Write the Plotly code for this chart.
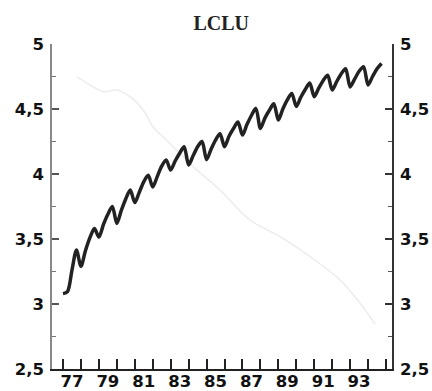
import plotly.graph_objects as go

# Black series: quarterly, 1977Q1 .. 1994Q4
years = list(range(1977, 1995))
lclu_q = [
    [3.08, 3.095, 3.26, 3.415],
    [3.29, 3.41, 3.51, 3.58],
    [3.515, 3.61, 3.69, 3.75],
    [3.62, 3.72, 3.81, 3.877],
    [3.78, 3.86, 3.94, 3.99],
    [3.90, 3.98, 4.06, 4.108],
    [4.03, 4.10, 4.16, 4.21],
    [4.07, 4.14, 4.21, 4.25],
    [4.11, 4.19, 4.26, 4.31],
    [4.21, 4.29, 4.35, 4.40],
    [4.30, 4.38, 4.45, 4.505],
    [4.35, 4.43, 4.49, 4.54],
    [4.415, 4.50, 4.57, 4.62],
    [4.52, 4.59, 4.65, 4.70],
    [4.595, 4.66, 4.72, 4.76],
    [4.646, 4.71, 4.77, 4.81],
    [4.67, 4.73, 4.79, 4.825],
    [4.685, 4.75, 4.81, 4.85],
]
quarter_offsets = [0.0, 0.25, 0.5, 0.75]

# Light grey series
grey_t = [1977.76, 1978.5, 1979.25, 1980.0, 1980.73, 1981.48, 1982.03, 1982.78,
          1984.26, 1985.75, 1987.42, 1989.10, 1990.77, 1992.44, 1993.56, 1994.39]
grey_v = [4.75, 4.685, 4.633, 4.646, 4.595, 4.49, 4.36, 4.26,
          4.056, 3.877, 3.646, 3.518, 3.364, 3.185, 3.005, 2.845]

year_labels = ["77", "79", "81", "83", "85", "87", "89", "91", "93"]
label_pos = [1977.5, 1979.5, 1981.5, 1983.5, 1985.5, 1987.5, 1989.5, 1991.5, 1993.5]
year_ticks = list(range(1977, 1996))

lclu_t = []
lclu_v = []
for y, vals in zip(years, lclu_q):
    for off, v in zip(quarter_offsets, vals):
        lclu_t.append(y + off)
        lclu_v.append(v)

fig = go.Figure()
fig.add_trace(go.Scatter(x=grey_t, y=grey_v, mode="lines",
                         line=dict(color="#ececec", width=1.5, shape="spline"),
                         hoverinfo="skip"))
fig.add_trace(go.Scatter(x=lclu_t, y=lclu_v, mode="lines",
                         line=dict(color="#222222", width=3.5, shape="spline", smoothing=0.8)))
# invisible trace for secondary axes
fig.add_trace(go.Scatter(x=[1980], y=[3], xaxis="x2", yaxis="y2", mode="markers",
                         marker=dict(opacity=0), hoverinfo="skip"))

xr = [1976.387, 1995.334]
yr = [2.5, 5.0]
tickfont = dict(family="DejaVu Sans", size=16.5, color="#111111", weight="bold")

fig.update_layout(
    width=432, height=391,
    margin=dict(l=52, r=40, t=44, b=22, autoexpand=False),
    paper_bgcolor="white", plot_bgcolor="white",
    showlegend=False,
    separators=", ",
    title=dict(text="LCLU", x=0.512, xanchor="center", y=0.94, yanchor="middle",
               font=dict(family="Liberation Serif, Times New Roman", size=20,
                         color="#222222", weight="bold")),
    xaxis=dict(range=xr, tickmode="array", tickvals=year_ticks, showticklabels=False,
               ticks="inside", ticklen=10, tickwidth=1.5, tickcolor="#222222",
               showline=True, linecolor="#222222", linewidth=2,
               showgrid=False, zeroline=False, automargin=False),
    xaxis2=dict(range=xr, overlaying="x", side="bottom", tickmode="array",
                tickvals=label_pos, ticktext=year_labels, ticks="",
                tickfont=tickfont, showline=False, showgrid=False, zeroline=False,
                ticklabelstandoff=0, automargin=False),
    yaxis=dict(range=yr, tickmode="linear", tick0=2.5, dtick=0.5,
               ticks="inside", ticklen=7, tickwidth=1.5, tickcolor="#555555",
               minor=dict(ticks="inside", ticklen=4, dtick=0.25, tick0=2.5,
                          tickcolor="#777777", tickwidth=1.2, showgrid=False),
               showline=True, linecolor="#888888", linewidth=1.5,
               tickfont=tickfont, ticklabelstandoff=3,
               showgrid=False, zeroline=False, automargin=False),
    yaxis2=dict(range=yr, overlaying="y", side="right", anchor="x",
                tickmode="linear", tick0=2.5, dtick=0.5,
                ticks="inside", ticklen=7, tickwidth=1.5, tickcolor="#333333",
                minor=dict(ticks="inside", ticklen=4, dtick=0.25, tick0=2.5,
                           tickcolor="#555555", tickwidth=1.2, showgrid=False),
                showline=True, linecolor="#333333", linewidth=1.5,
                tickfont=tickfont, ticklabelstandoff=3,
                showgrid=False, zeroline=False, automargin=False),
)

fig.write_html("out.html")
